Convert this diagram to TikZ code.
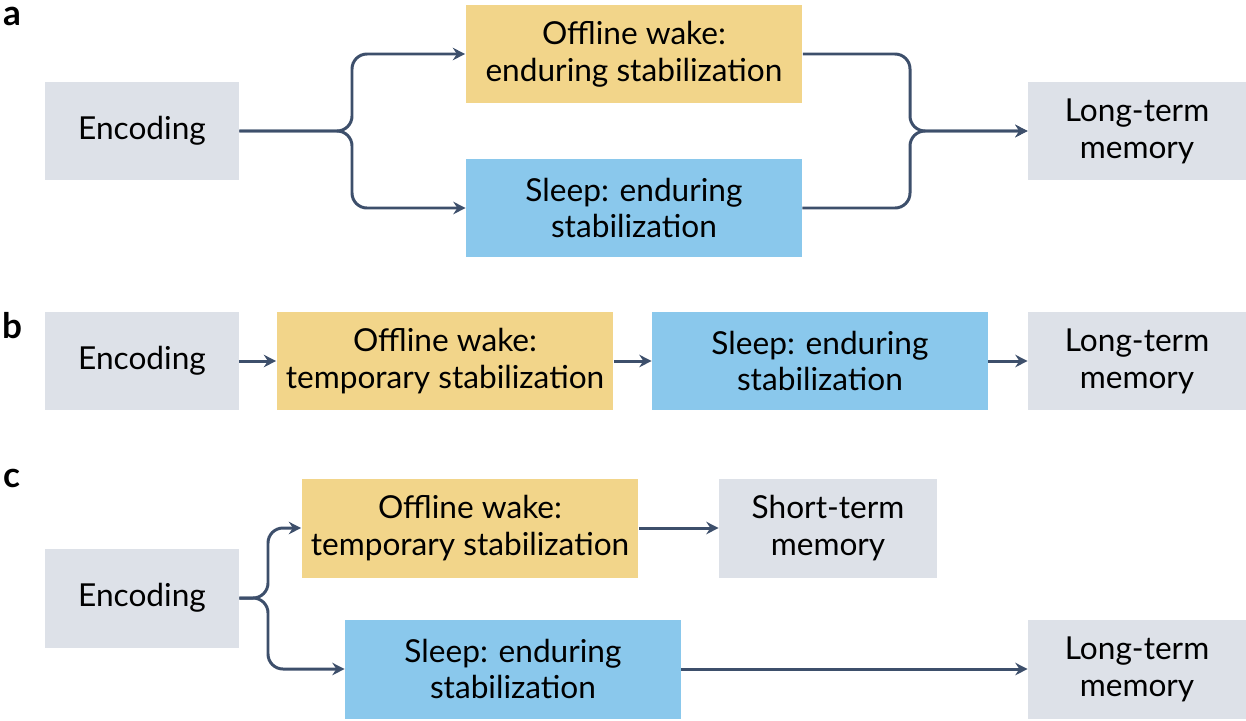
\documentclass[tikz,border=0pt]{standalone}
\usepackage{fontspec}
\setmainfont{Lato}
\usetikzlibrary{positioning, calc}
\definecolor{boxgray}{HTML}{DDE1E8}
\definecolor{boxyellow}{HTML}{F2D58A}
\definecolor{boxblue}{HTML}{8AC8EC}
\definecolor{linkc}{HTML}{3D4F6B}
\tikzset{
  box/.style={minimum height=1.98cm, align=center, inner sep=0pt, font=\fontsize{18}{21}\selectfont},
  plain/.style={box, fill=boxgray, minimum width=3.88cm},
  stm/.style={box, fill=boxgray, minimum width=4.36cm},
  wake/.style={box, fill=boxyellow, minimum width=6.74cm},
  sleep/.style={box, fill=boxblue, minimum width=6.72cm},
  link/.style={linkc, line width=1.7pt, rounded corners=0.3cm, -{Stealth[length=7pt,width=7pt]}},
  panel/.style={font=\fontsize{20}{22}\selectfont\bfseries}
}
\usetikzlibrary{arrows.meta}
\begin{document}
\begin{tikzpicture}[x=0.02cm, y=-0.02cm]
	\useasboundingbox (0,0) rectangle (1246,720);

	% panel a
	\node[panel] (la) at (12,16) {a};
	\node[plain] (encA) at (142,131) {Encoding};
	\node[wake] (wakeA) at (634,54) {Offline wake:\\enduring stabilization};
	\node[sleep] (sleepA) at (634,208) {Sleep: enduring\\stabilization};
	\node[box, fill=boxgray, minimum width=4.36cm] (ltmA) at (1137,131) {Long-term\\memory};
	\coordinate (splitA) at (352,131);
	\coordinate (joinA) at (910,131);
	\draw[link] (encA.east) -- (splitA) |- (wakeA.west);
	\draw[link] (encA.east) -- (splitA) |- (sleepA.west);
	\draw[link] (wakeA.east) -| (joinA) -- (ltmA.west);
	\draw[link] (sleepA.east) -| (joinA) -- (ltmA.west);

	% panel b
	\node[panel] (lb) at (12,326) {b};
	\node[plain] (encB) at (142,361) {Encoding};
	\node[wake] (wakeB) at (445,361) {Offline wake:\\temporary stabilization};
	\node[sleep] (sleepB) at (820,361) {Sleep: enduring\\stabilization};
	\node[stm] (ltmB) at (1137,361) {Long-term\\memory};
	\draw[link] (encB) -- (wakeB);
	\draw[link] (wakeB) -- (sleepB);
	\draw[link] (sleepB) -- (ltmB);

	% panel c
	\node[panel] (lc) at (12,478) {c};
	\node[plain] (encC) at (142,598) {Encoding};
	\node[wake] (wakeC) at (470,528) {Offline wake:\\temporary stabilization};
	\node[stm] (stmC) at (828,528) {Short-term\\memory};
	\node[sleep] (sleepC) at (513,669) {Sleep: enduring\\stabilization};
	\node[stm] (ltmC) at (1137,669) {Long-term\\memory};
	\coordinate (splitC) at (268,598);
	\draw[link] (encC.east) -- (splitC) |- (wakeC.west);
	\draw[link] (encC.east) -- (splitC) |- (sleepC.west);
	\draw[link] (wakeC) -- (stmC);
	\draw[link] (sleepC) -- (ltmC);
\end{tikzpicture}
\end{document}
